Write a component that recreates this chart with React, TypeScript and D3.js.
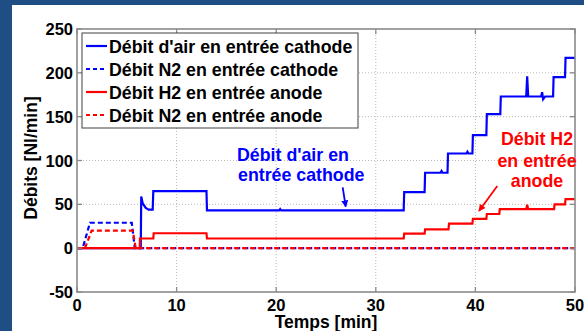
import React from "react";
import * as d3 from "d3";

type Pt = [number, number];

const xTicks = [0, 10, 20, 30, 40, 50];
const yTicks = [-50, 0, 50, 100, 150, 200, 250];

const airCathode: Pt[] = [
  [0, 0], [6.4, 0], [6.45, 59], [6.6, 51], [6.9, 46], [7.2, 44], [7.6, 44], [7.66, 65],
  [13.0, 65], [13.05, 43], [20.3, 43], [20.4, 44.5], [20.5, 43], [32.8, 43], [32.85, 64],
  [34.9, 64], [34.95, 86], [36.5, 86], [36.6, 88], [36.7, 86], [37.2, 86], [37.25, 108],
  [39.1, 108], [39.2, 110], [39.3, 108], [39.7, 108], [39.75, 129], [41.1, 129], [41.15, 153],
  [42.5, 153], [42.55, 173], [45.1, 173], [45.2, 196], [45.3, 173], [46.6, 173], [46.7, 178],
  [46.8, 170], [47.0, 173], [47.8, 173], [47.85, 195], [49.0, 195], [49.05, 217], [50, 217],
];

const n2Cathode: Pt[] = [
  [0, 0], [0.57, 0], [1.3, 29], [5.5, 29], [5.8, 0], [50, 0],
];

const h2Anode: Pt[] = [
  [0, 0], [6.3, 0], [6.32, 11], [7.66, 11], [7.7, 17], [13.0, 17], [13.05, 11],
  [32.8, 11], [32.85, 16.5], [34.9, 16.5], [34.95, 21.5], [37.3, 21.5], [37.35, 28],
  [39.7, 28], [39.75, 33.5], [41.1, 33.5], [41.15, 39], [42.4, 39], [42.45, 44.5],
  [45.1, 44.5], [45.2, 49.5], [45.3, 44.5], [47.9, 44.5], [47.95, 50], [49.0, 50],
  [49.05, 56], [50, 56],
];

const n2Anode: Pt[] = [
  [0, 0], [0.8, 0], [1.47, 20], [5.6, 20], [5.9, 0], [50, 0],
];

const legendLabels = [
  "Débit d'air en entrée cathode",
  "Débit N2 en entrée cathode",
  "Débit H2 en entrée anode",
  "Débit N2 en entrée anode",
];

const BLUE = "#0000ff";
const RED = "#ff0000";
const FONT = "'Liberation Sans', Arial, sans-serif";

export default function App() {
  const W = 584, H = 331;
  const left = 77, right = 575, top = 29, bottom = 292;
  const x = d3.scaleLinear().domain([0, 50]).range([left, right]);
  const y = d3.scaleLinear().domain([-50, 250]).range([bottom, top]);
  const line = d3.line<Pt>().x((d) => x(d[0])).y((d) => y(d[1]));

  const series = [
    { data: airCathode, color: BLUE, dash: undefined as string | undefined },
    { data: n2Cathode, color: BLUE, dash: "5,3" },
    { data: h2Anode, color: RED, dash: undefined },
    { data: n2Anode, color: RED, dash: "5,3" },
  ];

  const axisColor = "#8a8a8a";
  const gridColor = "#b8b8b8";

  const legX = 82, legY = 33, legW = 276, legH = 95;
  const rowY = [46, 69, 92, 115];

  return (
    <svg width={W} height={H} style={{ position: "absolute", left: 0, top: 0 }} fontFamily={FONT}>
      <rect x={0} y={0} width={W} height={H} fill="#1f4e84" />
      <rect x={12} y={5} width={W - 12} height={H - 5} fill="#ffffff" />
      <defs>
        <clipPath id="plotclip">
          <rect x={left} y={top} width={right - left} height={bottom - top} />
        </clipPath>
        <marker id="arrB" viewBox="0 0 10 10" refX="9" refY="5" markerWidth="7" markerHeight="7" orient="auto-start-reverse" markerUnits="userSpaceOnUse">
          <path d="M0,0 L10,5 L0,10 z" fill={BLUE} />
        </marker>
        <marker id="arrR" viewBox="0 0 10 10" refX="9" refY="5" markerWidth="7" markerHeight="7" orient="auto-start-reverse" markerUnits="userSpaceOnUse">
          <path d="M0,0 L10,5 L0,10 z" fill={RED} />
        </marker>
      </defs>
      {xTicks.slice(1, -1).map((t) => (
        <line key={"gx" + t} x1={x(t)} x2={x(t)} y1={top} y2={bottom} stroke={gridColor} strokeWidth={1} strokeDasharray="1,2" />
      ))}
      {yTicks.slice(1, -1).map((t) => (
        <line key={"gy" + t} x1={left} x2={right} y1={y(t)} y2={y(t)} stroke={gridColor} strokeWidth={1} strokeDasharray="1,2" />
      ))}
      <g clipPath="url(#plotclip)">
        {series.map((s, i) => (
          <path key={i} d={line(s.data) || ""} fill="none" stroke={s.color} strokeWidth={2.2} strokeDasharray={s.dash} strokeLinejoin="miter" />
        ))}
      </g>
      <rect x={left} y={top} width={right - left} height={bottom - top} fill="none" stroke={axisColor} strokeWidth={1.6} />
      {xTicks.map((t) => (
        <g key={"tx" + t}>
          <line x1={x(t)} x2={x(t)} y1={bottom} y2={bottom - 5} stroke={axisColor} strokeWidth={1.3} />
          <line x1={x(t)} x2={x(t)} y1={top} y2={top + 5} stroke={axisColor} strokeWidth={1.3} />
          <text x={x(t)} y={311} textAnchor="middle" fontSize={16.5} fontWeight="bold" fill="#000">{t}</text>
        </g>
      ))}
      {yTicks.map((t) => (
        <g key={"ty" + t}>
          <line x1={left} x2={left + 5} y1={y(t)} y2={y(t)} stroke={axisColor} strokeWidth={1.3} />
          <line x1={right} x2={right - 5} y1={y(t)} y2={y(t)} stroke={axisColor} strokeWidth={1.3} />
          <text x={73} y={y(t) + 6} textAnchor="end" fontSize={16.5} fontWeight="bold" fill="#000">{t}</text>
        </g>
      ))}
      <text x={326} y={328} textAnchor="middle" fontSize={17.5} fontWeight="bold" fill="#000">Temps [min]</text>
      <text transform="translate(37,158) rotate(-90)" textAnchor="middle" fontSize={17.5} fontWeight="bold" fill="#000">Débits [Nl/min]</text>
      <rect x={legX} y={legY} width={legW} height={legH} fill="#ffffff" stroke="#404040" strokeWidth={1} />
      {legendLabels.map((lab, i) => (
        <g key={"lg" + i}>
          <line x1={86} x2={107} y1={rowY[i]} y2={rowY[i]} stroke={series[i].color} strokeWidth={2.2} strokeDasharray={series[i].dash ? "4,3" : undefined} />
          <text x={109} y={rowY[i] + 6.5} fontSize={17.8} fontWeight="bold" fill="#000">{lab}</text>
        </g>
      ))}
      <text x={237} y={161} fontSize={17.8} fontWeight="bold" fill={BLUE}>Débit d'air en</text>
      <text x={238} y={181} fontSize={17.8} fontWeight="bold" fill={BLUE}>entrée cathode</text>
      <line x1={342.7} y1={187.3} x2={345.7} y2={206.7} stroke={BLUE} strokeWidth={1.8} markerEnd="url(#arrB)" />
      <text x={537} y={145} textAnchor="middle" fontSize={17.8} fontWeight="bold" fill={RED}>Débit H2</text>
      <text x={537} y={166.5} textAnchor="middle" fontSize={17.8} fontWeight="bold" fill={RED}>en entrée</text>
      <text x={537} y={187} textAnchor="middle" fontSize={17.8} fontWeight="bold" fill={RED}>anode</text>
      <line x1={497.3} y1={186} x2={479} y2={211} stroke={RED} strokeWidth={1.8} markerEnd="url(#arrR)" />
    </svg>
  );
}
